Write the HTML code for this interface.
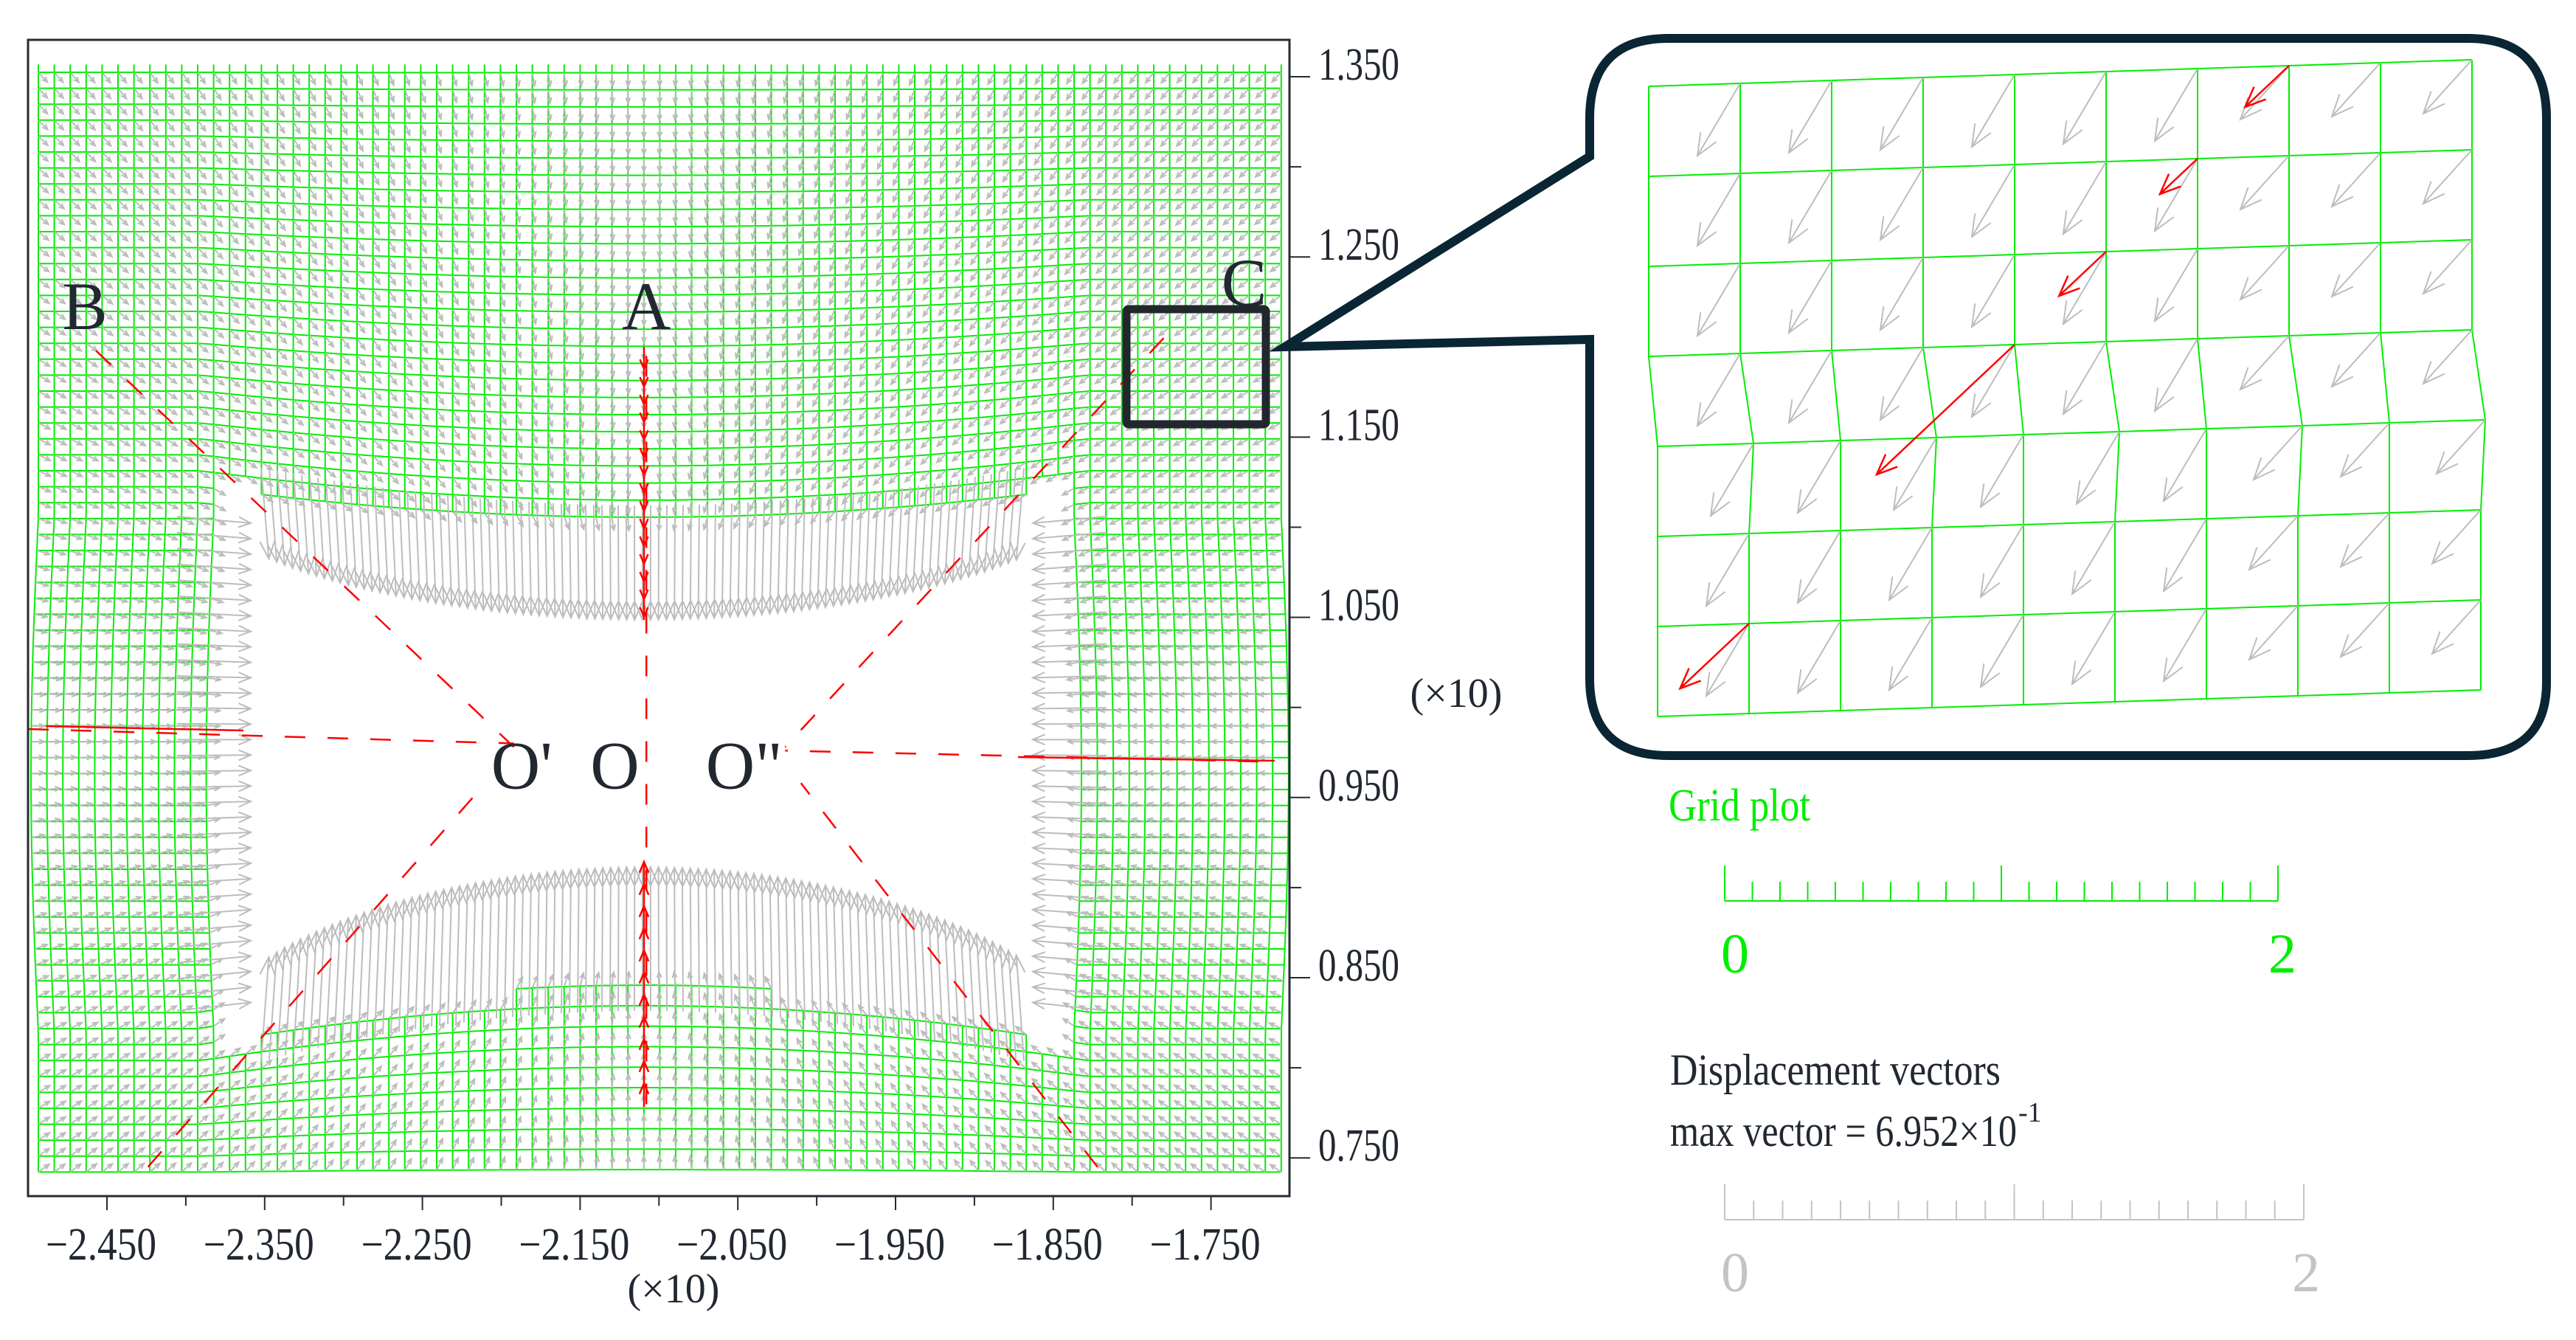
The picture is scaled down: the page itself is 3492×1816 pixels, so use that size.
<!DOCTYPE html>
<html><head><meta charset="utf-8">
<style>
html,body{margin:0;padding:0;background:#fff;}
svg{display:block;}
text{font-family:"Liberation Serif",serif;}
</style></head>
<body>
<svg id="chart" width="3492" height="1816" viewBox="0 0 3492 1816" xmlns="http://www.w3.org/2000/svg">
<g id="plot"></g>
<g id="axes"></g>
<g id="callout"></g>
<g id="legend"></g>
</svg>
<script>
// ---- data ----
const xTickVals = [-2.45,-2.35,-2.25,-2.15,-2.05,-1.95,-1.85,-1.75];
const xTickLabels = ["\u22122.450","\u22122.350","\u22122.250","\u22122.150","\u22122.050","\u22121.950","\u22121.850","\u22121.750"];
const yTickVals = [1.35,1.25,1.15,1.05,0.95,0.85,0.75];
const yTickLabels = ["1.350","1.250","1.150","1.050","0.950","0.850","0.750"];
const pointLabels = ["A","B","C","O'","O","O\""];
const pointX = [-2.108,-2.464,-1.729,-2.187,-2.128,-2.046];
const pointY = [1.210,1.210,1.223,0.955,0.955,0.955];
// red dashed paths (data coords) : start -> end
const pathX0 = [-2.457,-2.424,-2.500,-1.780,-1.822,-1.720,-2.108];
const pathY0 = [1.198,0.745,0.988,1.205,0.745,0.970,1.195];
const pathX1 = [-2.192,-2.210,-2.192,-2.020,-2.010,-2.020,-2.108];
const pathY1 = [0.978,0.958,0.980,0.978,0.958,0.976,0.775];
// callout red arrows: [col,row,length]
const calloutRedCol = [7,6,5,4,1];
const calloutRedRow = [0,1,2,3,6];
const calloutRedLen = [0.7,0.6,0.75,2.2,1.1];

// ---- scales ----
const NS='http://www.w3.org/2000/svg';
const xs = v => 145 + (v + 2.45) / 0.1 * 213.8;
const ys = v => 104 + (1.35 - v) / 0.1 * 244.2;
function mk(parent, tag, attrs){ const e=document.createElementNS(NS,tag); for(const k in attrs) e.setAttribute(k,attrs[k]); parent.appendChild(e); return e; }

const plot=document.getElementById('plot');
const axes=document.getElementById('axes');

// ---- main deformed grid ----
const CX=873;
function bell(x,c,h){const t=(x-c)/h; return Math.max(0,1-t*t);}
function gTop(x){return 665+60*bell(x,CX,560);}
function gBot(x){return 1410-80*bell(x,CX,560);}
function hTop(x){return 745+95*Math.pow(bell(x,CX,540),0.8);}
function hBot(x){return 1315-140*Math.pow(bell(x,CX,540),0.8);}
function deform(x,y){
  let dy=0, dx=0;
  if(y<gTop(x)+30){ dy = 45*bell(x,CX,600)*Math.max(0,(y-90))/620; }
  else if(y>gBot(x)-40){ dy = -80*bell(x,CX,600)*Math.max(0,(1600-y))/280; }
  if(x<330 && y>700 && y<1400) dx = -10*Math.sin((y-700)/700*Math.PI);
  if(x>1400 && y>700 && y<1400) dx = 10*Math.sin((y-700)/700*Math.PI);
  return [x+dx,y+dy];
}
const S=21.6, X0=52, Y0=98, NC=79, NR=70;
function inHoleZone(x,y){
  return x>297 && x<1445 && y>gTop(x)-2 && y<gBot(x)+2;
}
let gridD='';
for(let j=0;j<NR;j++){
  let first=true;
  for(let i=0;i<NC;i++){
    const [px,py]=deform(X0+i*S,Y0+j*S);
    if(inHoleZone(px,py)){first=true;continue;}
    gridD += (first?'M':'L')+px.toFixed(1)+' '+py.toFixed(1);
    first=false;
  }
}
for(let i=0;i<NC;i++){
  let first=true;
  for(let j=-1;j<NR;j++){
    const [px,py]=deform(X0+i*S,Y0+j*S+(j<0?11:0));
    if(inHoleZone(px,py)){first=true;continue;}
    gridD += (first?'M':'L')+px.toFixed(1)+' '+py.toFixed(1);
    first=false;
  }
}
const grid=mk(plot,'path',{d:gridD,stroke:'#00ee00','stroke-width':2,fill:'none'});



let arD='';
function arrow(x1,y1,x2,y2,h){
  const a=Math.atan2(y2-y1,x2-x1);
  let s='M'+x1.toFixed(1)+' '+y1.toFixed(1)+'L'+x2.toFixed(1)+' '+y2.toFixed(1);
  s+='M'+(x2-h*Math.cos(a-0.4)).toFixed(1)+' '+(y2-h*Math.sin(a-0.4)).toFixed(1)+'L'+x2.toFixed(1)+' '+y2.toFixed(1)+'L'+(x2-h*Math.cos(a+0.4)).toFixed(1)+' '+(y2-h*Math.sin(a+0.4)).toFixed(1);
  return s;
}
for(let j=0;j<NR;j++){
  for(let i=0;i<NC;i++){
    const [px,py]=deform(X0+i*S,Y0+j*S);
    if(inHoleZone(px,py)) continue;
    if(px>1740) continue;
    const a=Math.atan2(1000-py,CX-px);
    arD+=arrow(px,py,px+18*Math.cos(a),py+18*Math.sin(a),8);
  }
}
for(let x=310;x<1440;x+=11){
  const y1=gTop(x)-40, y2=hTop(x);
  if(y2>y1+10 && x>345 && x<1395) arD+=arrow(x,y1,x+(CX-x)*0.02,y2,26);
  const b1=gBot(x)+40, b2=hBot(x);
  if(b1>b2+10 && x>345 && x<1395) arD+=arrow(x,b1,x+(CX-x)*0.02,b2,26);
}
for(let y=700;y<1380;y+=21.6){
  arD+=arrow(240,y,340,y+(1000-y)*0.03,18);
  arD+=arrow(1500,y,1400,y+(1000-y)*0.03,18);
}
const arr=mk(plot,'path',{d:arD,stroke:'#bdbdbd','stroke-width':2,fill:'none'});



for(let k=0;k<pathX0.length;k++){
  const l=mk(plot,'line',{x1:xs(pathX0[k]),y1:ys(pathY0[k]),x2:xs(pathX1[k]),y2:ys(pathY1[k]),stroke:'#ff0000','stroke-width':2.5,'stroke-dasharray':'28 30'});
  
  
}
// red vectors along A line
let rA='';
for(let y=480;y<840;y+=24) rA+=arrow(CX,y,CX,y+20,14);
for(let y=1490;y>1180;y-=30) rA+=arrow(CX,y,CX,y-22,16);
rA+='M'+CX+' 470L'+CX+' 840M'+CX+' 1175L'+CX+' 1500';
const ra=mk(plot,'path',{d:rA,stroke:'#ff0000','stroke-width':2.5,fill:'none'});


const rl1=mk(plot,'line',{x1:62,y1:984,x2:330,y2:990,stroke:'#ff0000','stroke-width':2.5});


const rl2=mk(plot,'line',{x1:1380,y1:1026,x2:1728,y2:1031,stroke:'#ff0000','stroke-width':2.5});



for(let k=0;k<pointLabels.length;k++){
  const t=mk(plot,'text',{x:xs(pointX[k]),y:ys(pointY[k]),'font-size':92,fill:'#222831','text-anchor':'middle'});
  t.textContent=pointLabels[k];
  
  
}
const db=mk(plot,'rect',{x:1527,y:419,width:189,height:156,fill:'none',stroke:'#22272e','stroke-width':11,rx:3});



// ---- axes ----
const fr=mk(axes,'rect',{x:38,y:54,width:1710,height:1567,fill:'none',stroke:'#262b33','stroke-width':3});


for(let k=0;k<xTickVals.length;k++){
  const x=xs(xTickVals[k]);
  const tk=mk(axes,'line',{x1:x,y1:1621,x2:x,y2:1640,stroke:'#262b33','stroke-width':2});
  
  
  const mx=xs(xTickVals[k]+0.05);
  if(mx<1748){const m=mk(axes,'line',{x1:mx,y1:1621,x2:mx,y2:1634,stroke:'#262b33','stroke-width':2});
  
  }
  const t=mk(axes,'text',{x:x-8,y:1707,'font-size':62,fill:'#222831','text-anchor':'middle',textLength:150,lengthAdjust:'spacingAndGlyphs'});
  t.textContent=xTickLabels[k];
  
  
}
for(let k=0;k<yTickVals.length;k++){
  const y=ys(yTickVals[k]);
  const tk=mk(axes,'line',{x1:1748,y1:y,x2:1776,y2:y,stroke:'#262b33','stroke-width':2});
  
  
  const my=ys(yTickVals[k]-0.05);
  if(my<1621){const m=mk(axes,'line',{x1:1748,y1:my,x2:1764,y2:my,stroke:'#262b33','stroke-width':2});
  
  }
  const t=mk(axes,'text',{x:1787,y:y+4,'font-size':62,fill:'#222831',textLength:110,lengthAdjust:'spacingAndGlyphs'});
  t.textContent=yTickLabels[k];
  
  
}
const xu=mk(axes,'text',{x:913,y:1765,'font-size':56,fill:'#222831','text-anchor':'middle'});
xu.textContent='(\u00d710)';


const yu=mk(axes,'text',{x:1974,y:958,'font-size':56,fill:'#222831','text-anchor':'middle'});
yu.textContent='(\u00d710)';



// ---- callout ----
const co=document.getElementById('callout');
const bubble=mk(co,'path',{d:'M2262 52 L3345 52 Q3452 52 3452 160 L3452 925 Q3452 1024 3345 1024 L2262 1024 Q2155 1024 2155 920 L2155 460 L1742 470 L2155 212 L2155 160 Q2155 52 2262 52 Z',fill:'#fff',stroke:'#0a2533','stroke-width':12,'stroke-linejoin':'miter'});


const CW=124, CH=122, GX=2235, GY=117, SL=-36/1116;
function cnode(i,j){
  const jx=(j>=4?12:0);
  return [GX+i*CW+jx + (j==4?(i%2?6:0):0), GY+j*CH+i*CW*SL];
}
let cg='', ca='';
for(let j=0;j<=7;j++){ for(let i=0;i<=9;i++){const [x,y]=cnode(i,j); cg+=(i?'L':'M')+x+' '+y;} }
for(let i=0;i<=9;i++){ for(let j=0;j<=7;j++){const [x,y]=cnode(i,j); cg+=(j?'L':'M')+x+' '+y;} }
for(let j=0;j<7;j++){ for(let i=1;i<=9;i++){const [x,y]=cnode(i,j); ca+=arrow(x,y,x-58-(i>6?8:0),y+98-(i>6?25:0),32);} }
const cgp=mk(co,'path',{d:cg,stroke:'#00ee00','stroke-width':2,fill:'none'});


const cap=mk(co,'path',{d:ca,stroke:'#bdbdbd','stroke-width':2,fill:'none'});


let cr='';
for(let k=0;k<calloutRedCol.length;k++){
  const [x,y]=cnode(calloutRedCol[k],calloutRedRow[k]);
  const L=calloutRedLen[k];
  cr+=arrow(x,y,x-85*L,y+80*L,30);
}
const crp=mk(co,'path',{d:cr,stroke:'#ff0000','stroke-width':2.5,fill:'none'});



// ---- legend ----
const lg=document.getElementById('legend');
function scaleBar(y,x0,x1,col,name){
  let d='M'+x0+' '+y+'L'+x1+' '+y;
  for(let k=0;k<=20;k++){const x=x0+(x1-x0)*k/20; const h=(k%10==0)?48:26; d+='M'+x+' '+y+'L'+x+' '+(y-h);}
  const p=mk(lg,'path',{d:d,stroke:col,'stroke-width':2,fill:'none'});
  
  
}
const gt=mk(lg,'text',{x:2262,y:1112,'font-size':62,fill:'#00ee00',textLength:192,lengthAdjust:'spacingAndGlyphs'});
gt.textContent='Grid plot';


scaleBar(1221,2338,3088,'#00ee00','grid-scale-bar');
const g0=mk(lg,'text',{x:2352,y:1318,'font-size':76,fill:'#00ee00','text-anchor':'middle'});g0.textContent='0';


const g2=mk(lg,'text',{x:3094,y:1318,'font-size':76,fill:'#00ee00','text-anchor':'middle'});g2.textContent='2';


const dv=mk(lg,'text',{x:2264,y:1470,'font-size':60,fill:'#222831',textLength:448,lengthAdjust:'spacingAndGlyphs'});
dv.textContent='Displacement vectors';


const mv=mk(lg,'text',{x:2264,y:1553,'font-size':60,fill:'#222831',textLength:470,lengthAdjust:'spacingAndGlyphs'});
mv.textContent='max vector = 6.952\u00d710';


const sup=mk(lg,'text',{x:2736,y:1520,'font-size':38,fill:'#222831'});sup.textContent='-1';


scaleBar(1653,2338,3123,'#c4c4c4','vector-scale-bar');
const v0=mk(lg,'text',{x:2352,y:1750,'font-size':76,fill:'#c4c4c4','text-anchor':'middle'});v0.textContent='0';


const v2=mk(lg,'text',{x:3126,y:1750,'font-size':76,fill:'#c4c4c4','text-anchor':'middle'});v2.textContent='2';


</script>
</body></html>
